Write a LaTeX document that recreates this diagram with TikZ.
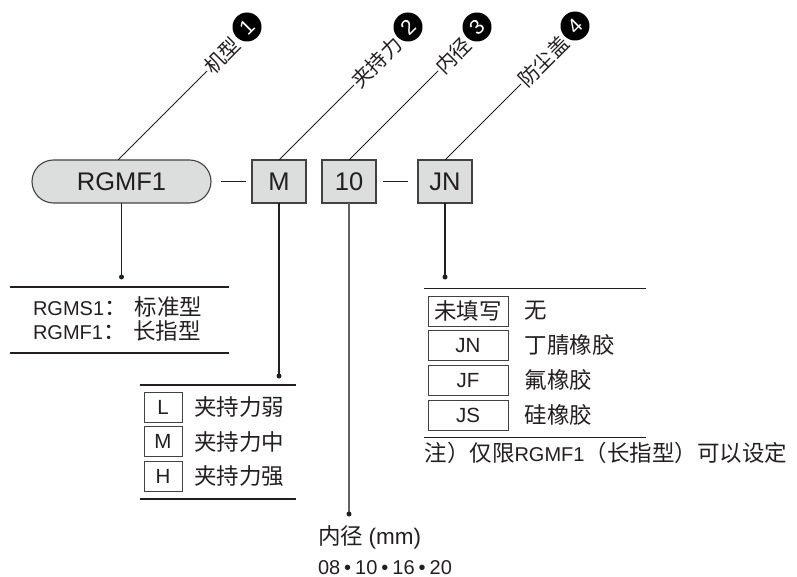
\documentclass[tikz,border=0pt]{standalone}
\usepackage{fontspec}
\setmainfont{Liberation Sans}
\newfontfamily\cjkfont{Noto Sans CJK SC}
\usetikzlibrary{shapes.misc}
\definecolor{boxfill}{HTML}{DCDDDD}
\definecolor{ink}{HTML}{231F20}
\newcommand\zhtext[1]{{\cjkfont\fontsize{22.5}{27}\selectfont #1}}
\newcommand\zhlbl[1]{{\cjkfont\fontsize{20.5}{24}\selectfont #1}}
\newcommand\latsize{\fontsize{20}{24}\selectfont}
\begin{document}
\begin{tikzpicture}[x=1pt,y=-1pt,
  every node/.style={inner sep=0pt, outer sep=0pt, text=ink, font=\latsize},
  pill/.style={rounded rectangle, draw=ink!85, fill=boxfill, line width=1.1pt,
    minimum width=179pt, minimum height=43pt, font=\fontsize{25.5}{30}\selectfont},
  mainbox/.style={rectangle, draw=ink!85, fill=boxfill, line width=1.1pt,
    minimum width=54pt, minimum height=43pt, font=\fontsize{25.5}{30}\selectfont},
  leader/.style={draw=ink, line width=0.8pt},
  conn/.style={draw=ink, line width=1.1pt},
  rule/.style={draw=ink, line width=1.4pt},
  numdot/.style={circle, fill=black, text=white, minimum size=29pt, rotate=45,
    font=\fontsize{21}{22}\selectfont},
  lbl/.style={rotate=45, anchor=west, inner sep=1pt},
  subbox/.style={rectangle, draw=ink!85, fill=white, line width=0.9pt, minimum height=30pt,
    font=\fontsize{20.5}{24}\selectfont},
  tip/.style={circle, fill=ink, minimum size=5pt}
]
\useasboundingbox (0,0) rectangle (797,577);

% main code row
\node[pill] (rgmf) at (121.5,181.5) {RGMF1\hspace{13pt}};
\node[mainbox] (m) at (279,181.5) {M};
\node[mainbox] (d) at (349,181.5) {10};
\node[mainbox] (jn) at (445,181.5) {JN};
\draw[conn] ([xshift=10pt]rgmf.east) -- ([xshift=-6pt]m.west);
\draw[conn] ([xshift=7pt]d.east) -- ([xshift=-10pt]jn.west);

% leaders with labels
\coordinate (e1) at (207,71);
\coordinate (e2) at (354,85);
\coordinate (e3) at (438,71);
\coordinate (e4) at (521,84);
\draw[leader] ([xshift=-3.5pt]rgmf.north) -- (e1);
\draw[leader] (m.north) -- (e2);
\draw[leader] (d.north) -- (e3);
\draw[leader] (jn.north) -- (e4);
\node[lbl] (t1) at (e1) {\zhlbl{机型}};
\node[lbl] (t2) at (e2) {\zhlbl{夹持力}};
\node[lbl] (t3) at (e3) {\zhlbl{内径}};
\node[lbl] (t4) at (e4) {\zhlbl{防尘盖}};
\node[numdot] (n1) at (247,27) {1};
\node[numdot] (n2) at (408,27) {2};
\node[numdot] (n3) at (477,27) {3};
\node[numdot] (n4) at (575,26) {4};

% section 1: model
\coordinate (b1) at (121.5,277);
\draw[conn] (rgmf.south) -- (b1);
\node[tip] (b1dot) at (b1) {};
\coordinate (r1a) at (10,287);
\coordinate (r1b) at (229,287);
\coordinate (r1c) at (10,353);
\coordinate (r1d) at (229,353);
\draw[rule] (r1a) -- (r1b);
\draw[rule] (r1c) -- (r1d);
\node[anchor=base west] (s1) at (33,315) {RGMS1\zhtext{：}\hspace{8pt}\zhtext{标准型}};
\node[anchor=base west] (s2) at (33,339.5) {RGMF1\zhtext{：}\hspace{8pt}\zhtext{长指型}};

% section 2: gripping force
\coordinate (b2) at (279,376);
\draw[conn] (m.south) -- (b2);
\node[tip] (b2dot) at (b2) {};
\coordinate (r2a) at (140,385);
\coordinate (r2b) at (296,385);
\coordinate (r2c) at (140,499);
\coordinate (r2d) at (296,499);
\draw[rule] (r2a) -- (r2b);
\draw[rule] (r2c) -- (r2d);
\node[subbox, minimum width=38pt] (bl) at (163,407) {L};
\node[subbox, minimum width=38pt] (bm) at (163,441.7) {M};
\node[subbox, minimum width=38pt] (bh) at (163,476.3) {H};
\node[anchor=west] (tl) at (194,407) {\zhtext{夹持力弱}};
\node[anchor=west] (tm) at (194,441.7) {\zhtext{夹持力中}};
\node[anchor=west] (th) at (194,476.3) {\zhtext{夹持力强}};

% section 3: inner diameter
\coordinate (b3) at (349,514);
\draw[conn, draw=ink!70] (d.south) -- (b3);
\node[tip] (b3dot) at (b3) {};
\node[anchor=west] (dia) at (318,537) {\zhtext{内径} {\fontsize{22.5}{27}\selectfont (mm)}};
\node[anchor=west] (dv) at (318,567.5) {08\hspace{4pt}•\hspace{4pt}10\hspace{4pt}•\hspace{4pt}16\hspace{4pt}•\hspace{4pt}20};

% section 4: dust cover
\coordinate (b4) at (445,277);
\draw[conn] (jn.south) -- (b4);
\node[tip] (b4dot) at (b4) {};
\coordinate (r4a) at (424,288.3);
\coordinate (r4b) at (646,288.3);
\coordinate (r4c) at (424,437.5);
\coordinate (r4d) at (646,437.5);
\draw[rule] (r4a) -- (r4b);
\draw[rule] (r4c) -- (r4d);
\node[subbox, minimum width=80pt] (c0) at (468,311) {\zhtext{未填写}};
\node[subbox, minimum width=80pt] (c1) at (468,345.3) {JN};
\node[subbox, minimum width=80pt] (c2) at (468,380.3) {JF};
\node[subbox, minimum width=80pt] (c3) at (468,415) {JS};
\node[anchor=west] (u0) at (524.5,311) {\zhtext{无}};
\node[anchor=west] (u1) at (524.5,345.3) {\zhtext{丁腈橡胶}};
\node[anchor=west] (u2) at (524.5,380.3) {\zhtext{氟橡胶}};
\node[anchor=west] (u3) at (524.5,415) {\zhtext{硅橡胶}};
\node[anchor=west] (note) at (424.5,453) {\zhtext{注）仅限}RGMF1\zhtext{（长指型）可以设定}};
\end{tikzpicture}
\end{document}
